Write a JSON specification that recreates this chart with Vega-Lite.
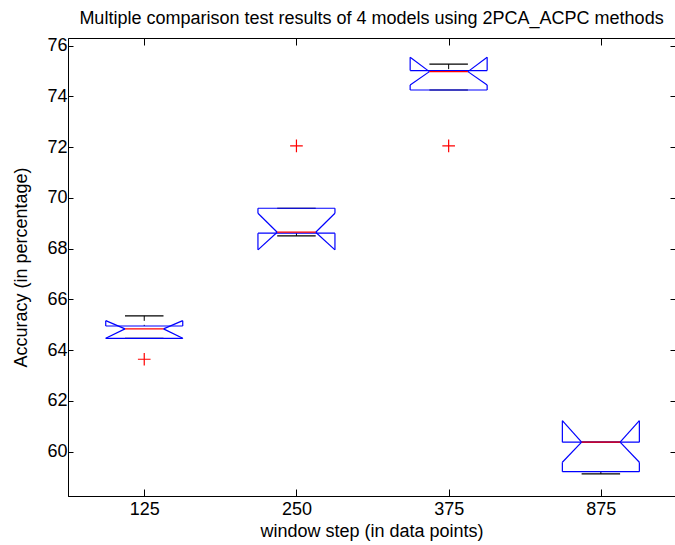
{
  "$schema": "https://vega.github.io/schema/vega-lite/v6.json",
  "width": 607,
  "height": 458,
  "autosize": {"type": "none"},
  "padding": {"left": 68, "top": 38, "right": 0, "bottom": 49},
  "background": "white",
  "title": {
    "text": "Multiple comparison test results of 4 models using 2PCA_ACPC methods",
    "font": "Liberation Sans",
    "fontSize": 18,
    "fontWeight": "normal",
    "color": "black",
    "anchor": "middle",
    "baseline": "alphabetic",
    "offset": -5
  },
  "config": {
    "font": "Liberation Sans",
    "view": {"stroke": "black", "strokeWidth": 1},
    "axis": {
      "labelFont": "Liberation Sans",
      "labelFontSize": 18,
      "labelColor": "black",
      "tickColor": "black",
      "domainColor": "black",
      "titleFont": "Liberation Sans",
      "titleFontSize": 18,
      "titleFontWeight": "normal",
      "titleColor": "black",
      "grid": false,
      "tickWidth": 1,
      "domainWidth": 1
    }
  },
  "datasets": {
    "box": [
      {"step": "125", "q1": 64.46, "q3": 64.95, "med": 64.835, "nlo": 64.47, "nhi": 65.16, "wlo": 64.46, "whi": 65.35},
      {"step": "250", "q1": 68.607, "q3": 69.59, "med": 68.646, "nlo": 67.95, "nhi": 69.395, "wlo": 68.5, "whi": 69.59},
      {"step": "375", "q1": 74.25, "q3": 75.015, "med": 74.975, "nlo": 74.45, "nhi": 75.54, "wlo": 74.25, "whi": 75.27},
      {"step": "875", "q1": 59.21, "q3": 60.37, "med": 60.37, "nlo": 59.58, "nhi": 61.22, "wlo": 59.12, "whi": 60.37}
    ],
    "out": [
      {"step": "125", "value": 63.64},
      {"step": "250", "value": 72.05},
      {"step": "375", "value": 72.05}
    ]
  },
  "data": {"name": "box"},
  "encoding": {
    "x": {"field": "step", "type": "ordinal", "scale": {"type": "point", "padding": 0.494, "align": 0.507}, "axis": null}
  },
  "layer": [
    {
      "mark": {"type": "rule", "color": "black", "strokeDash": [5, 4], "strokeWidth": 1},
      "encoding": {
        "x": {"field": "step", "type": "ordinal", "scale": {"type": "point", "padding": 0.494, "align": 0.507},
          "axis": {"orient": "bottom", "labelAngle": 0, "tickSize": -7, "labelPadding": 11, "title": "window step (in data points)", "titlePadding": 4}},
        "y": {"field": "whi", "type": "quantitative", "scale": {"domain": [58.25, 76.3], "nice": false, "zero": false},
          "axis": {"orient": "left", "values": [60, 62, 64, 66, 68, 70, 72, 74, 76], "tickSize": -5, "labelPadding": 6, "title": "Accuracy (in percentage)", "titlePadding": 16}},
        "y2": {"field": "q3"}
      }
    },
    {
      "mark": {"type": "rule", "color": "black", "strokeDash": [5, 4], "strokeWidth": 1},
      "encoding": {
        "x": {"field": "step", "type": "ordinal", "scale": {"type": "point", "padding": 0.494, "align": 0.507},
          "axis": {"orient": "top", "labels": false, "domain": false, "tickSize": -7, "title": null}},
        "y": {"field": "wlo", "type": "quantitative", "scale": {"domain": [58.25, 76.3], "nice": false, "zero": false},
          "axis": {"orient": "right", "labels": false, "domain": false, "values": [60, 62, 64, 66, 68, 70, 72, 74, 76], "tickSize": -5, "title": null}},
        "y2": {"field": "q1"}
      }
    },
    {
      "mark": {"type": "rule", "color": "black", "strokeWidth": 1.2, "xOffset": -19.25, "x2Offset": 19.25},
      "encoding": {
        "x2": {"field": "step"},
        "y": {"field": "whi", "type": "quantitative", "scale": {"domain": [58.25, 76.3], "nice": false, "zero": false}, "axis": null}
      }
    },
    {
      "mark": {"type": "rule", "color": "black", "strokeWidth": 1.2, "xOffset": -19.25, "x2Offset": 19.25},
      "encoding": {
        "x2": {"field": "step"},
        "y": {"field": "wlo", "type": "quantitative", "scale": {"domain": [58.25, 76.3], "nice": false, "zero": false}, "axis": null}
      }
    },
    {
      "mark": {"type": "rule", "color": "#0000ff", "strokeWidth": 1.2, "xOffset": -38.5, "x2Offset": 38.5},
      "encoding": {
        "x2": {"field": "step"},
        "y": {"field": "q3", "type": "quantitative", "scale": {"domain": [58.25, 76.3], "nice": false, "zero": false}, "axis": null}
      }
    },
    {
      "mark": {"type": "rule", "color": "#0000ff", "strokeWidth": 1.2, "xOffset": -38.5, "x2Offset": 38.5},
      "encoding": {
        "x2": {"field": "step"},
        "y": {"field": "q1", "type": "quantitative", "scale": {"domain": [58.25, 76.3], "nice": false, "zero": false}, "axis": null}
      }
    },
    {
      "mark": {"type": "rule", "color": "#0000ff", "strokeWidth": 1.2, "xOffset": -38.5},
      "encoding": {
        "y": {"field": "nhi", "type": "quantitative", "scale": {"domain": [58.25, 76.3], "nice": false, "zero": false}, "axis": null},
        "y2": {"field": "q3"}
      }
    },
    {
      "mark": {"type": "rule", "color": "#0000ff", "strokeWidth": 1.2, "xOffset": 38.5},
      "encoding": {
        "y": {"field": "nhi", "type": "quantitative", "scale": {"domain": [58.25, 76.3], "nice": false, "zero": false}, "axis": null},
        "y2": {"field": "q3"}
      }
    },
    {
      "mark": {"type": "rule", "color": "#0000ff", "strokeWidth": 1.2, "xOffset": -38.5},
      "encoding": {
        "y": {"field": "nlo", "type": "quantitative", "scale": {"domain": [58.25, 76.3], "nice": false, "zero": false}, "axis": null},
        "y2": {"field": "q1"}
      }
    },
    {
      "mark": {"type": "rule", "color": "#0000ff", "strokeWidth": 1.2, "xOffset": 38.5},
      "encoding": {
        "y": {"field": "nlo", "type": "quantitative", "scale": {"domain": [58.25, 76.3], "nice": false, "zero": false}, "axis": null},
        "y2": {"field": "q1"}
      }
    },
    {
      "mark": {"type": "rule", "color": "#0000ff", "strokeWidth": 1.2, "xOffset": -38.5, "x2Offset": -19.25},
      "encoding": {
        "x2": {"field": "step"},
        "y": {"field": "nhi", "type": "quantitative", "scale": {"domain": [58.25, 76.3], "nice": false, "zero": false}, "axis": null},
        "y2": {"field": "med"}
      }
    },
    {
      "mark": {"type": "rule", "color": "#0000ff", "strokeWidth": 1.2, "xOffset": 38.5, "x2Offset": 19.25},
      "encoding": {
        "x2": {"field": "step"},
        "y": {"field": "nhi", "type": "quantitative", "scale": {"domain": [58.25, 76.3], "nice": false, "zero": false}, "axis": null},
        "y2": {"field": "med"}
      }
    },
    {
      "mark": {"type": "rule", "color": "#0000ff", "strokeWidth": 1.2, "xOffset": -38.5, "x2Offset": -19.25},
      "encoding": {
        "x2": {"field": "step"},
        "y": {"field": "nlo", "type": "quantitative", "scale": {"domain": [58.25, 76.3], "nice": false, "zero": false}, "axis": null},
        "y2": {"field": "med"}
      }
    },
    {
      "mark": {"type": "rule", "color": "#0000ff", "strokeWidth": 1.2, "xOffset": 38.5, "x2Offset": 19.25},
      "encoding": {
        "x2": {"field": "step"},
        "y": {"field": "nlo", "type": "quantitative", "scale": {"domain": [58.25, 76.3], "nice": false, "zero": false}, "axis": null},
        "y2": {"field": "med"}
      }
    },
    {
      "mark": {"type": "rule", "color": "#ff0000", "strokeWidth": 1.2, "xOffset": -19.25, "x2Offset": 19.25},
      "encoding": {
        "x2": {"field": "step"},
        "y": {"field": "med", "type": "quantitative", "scale": {"domain": [58.25, 76.3], "nice": false, "zero": false}, "axis": null}
      }
    },
    {
      "data": {"name": "out"},
      "mark": {"type": "point", "shape": "M-1,0L1,0M0,-1L0,1", "filled": false, "color": "#ff0000", "strokeWidth": 1.2, "size": 160, "opacity": 1},
      "encoding": {
        "y": {"field": "value", "type": "quantitative", "scale": {"domain": [58.25, 76.3], "nice": false, "zero": false}, "axis": null}
      }
    }
  ],
  "resolve": {"axis": {"x": "independent", "y": "independent"}}
}
